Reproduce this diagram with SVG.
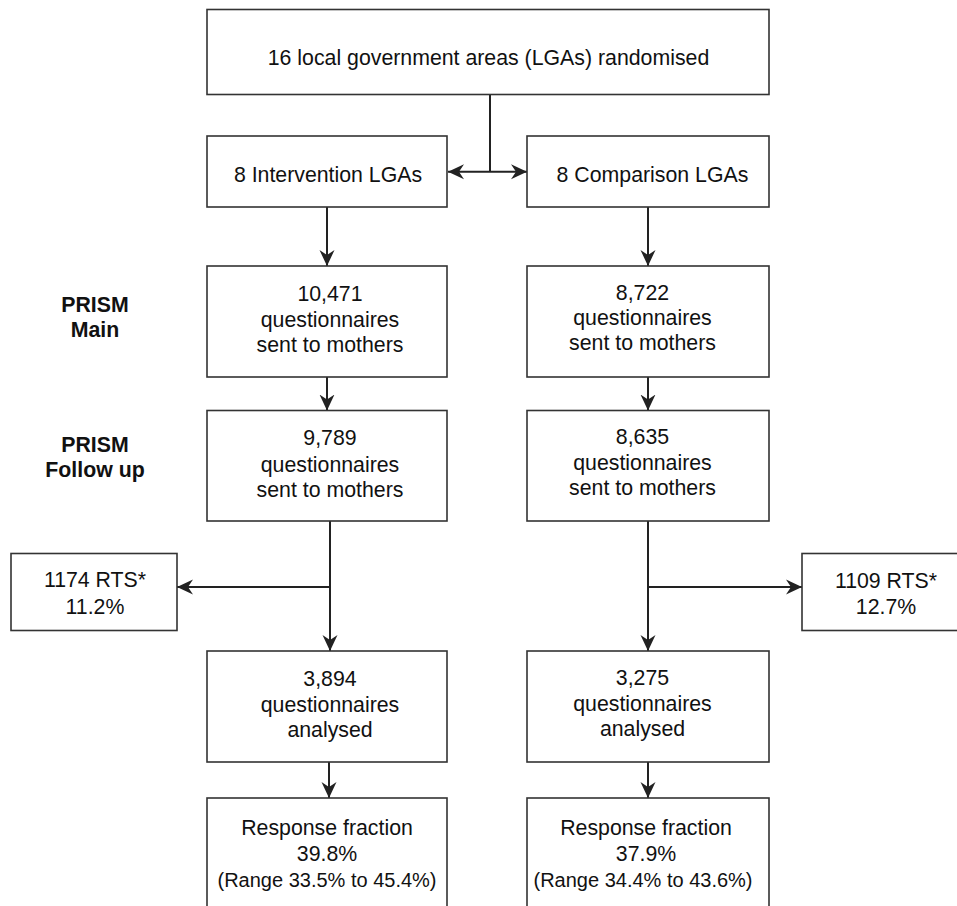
<svg xmlns="http://www.w3.org/2000/svg" width="957" height="906" viewBox="0 0 957 906">
<style>
.box{fill:#fff;stroke:#333;stroke-width:1.6}
.t{font-family:"Liberation Sans",Arial,sans-serif;font-size:21.3px;fill:#111;text-anchor:middle}
.s{font-size:20px}
.b{font-weight:bold}
.c{fill:none;stroke:#222;stroke-width:2}
</style>
<defs>
<marker id="ah" markerUnits="userSpaceOnUse" markerWidth="17" markerHeight="16" refX="16" refY="8" orient="auto">
<path d="M0,0.5 L16,8 L0,15.5 L5,8 Z" fill="#222"/>
</marker>
</defs>
<rect width="957" height="906" fill="#fff"/>
<g id="connectors">
<path class="c" d="M490,94.5 V171.7"/>
<path class="c" d="M490,171.7 H448" marker-end="url(#ah)"/>
<path class="c" d="M490,171.7 H527" marker-end="url(#ah)"/>
<path class="c" d="M327,207 V266" marker-end="url(#ah)"/>
<path class="c" d="M648,207 V266" marker-end="url(#ah)"/>
<path class="c" d="M327,377 V410.5" marker-end="url(#ah)"/>
<path class="c" d="M648,377 V410.5" marker-end="url(#ah)"/>
<path class="c" d="M330,521 V651" marker-end="url(#ah)"/>
<path class="c" d="M330,587 H177" marker-end="url(#ah)"/>
<path class="c" d="M648,521 V651" marker-end="url(#ah)"/>
<path class="c" d="M648,587 H802" marker-end="url(#ah)"/>
<path class="c" d="M329,762 V798" marker-end="url(#ah)"/>
<path class="c" d="M648,762 V798" marker-end="url(#ah)"/>
</g>
<g id="n-top"><rect class="box" x="207" y="9.5" width="562" height="85"/>
<text class="t" x="488.5" y="65">16 local government areas (LGAs) randomised</text></g>
<g id="n-int"><rect class="box" x="207" y="136" width="240" height="71"/>
<text class="t" x="328" y="181.7">8 Intervention LGAs</text></g>
<g id="n-comp"><rect class="box" x="527" y="136" width="242" height="71"/>
<text class="t" x="652.5" y="181.7">8 Comparison LGAs</text></g>
<g id="l-main"><text class="t b" x="95" y="311.7">PRISM</text><text class="t b" x="95" y="336.7">Main</text></g>
<g id="l-follow"><text class="t b" x="95" y="451.7">PRISM</text><text class="t b" x="95" y="476.7">Follow up</text></g>
<g id="n-int-main"><rect class="box" x="207" y="266" width="240" height="111"/>
<text class="t" x="330" y="301">10,471</text><text class="t" x="330" y="327">questionnaires</text><text class="t" x="330" y="352">sent to mothers</text></g>
<g id="n-comp-main"><rect class="box" x="527" y="266" width="242" height="111"/>
<text class="t" x="642.5" y="299.5">8,722</text><text class="t" x="642.5" y="325">questionnaires</text><text class="t" x="642.5" y="350">sent to mothers</text></g>
<g id="n-int-fu"><rect class="box" x="207" y="410.5" width="240" height="110.5"/>
<text class="t" x="330" y="445">9,789</text><text class="t" x="330" y="471.5">questionnaires</text><text class="t" x="330" y="496.5">sent to mothers</text></g>
<g id="n-comp-fu"><rect class="box" x="527" y="410.5" width="242" height="110.5"/>
<text class="t" x="642.5" y="444">8,635</text><text class="t" x="642.5" y="470">questionnaires</text><text class="t" x="642.5" y="495">sent to mothers</text></g>
<g id="n-rts-int"><rect class="box" x="11" y="553.5" width="166" height="77"/>
<text class="t" x="95" y="587">1174 RTS*</text><text class="t" x="95" y="613.5">11.2%</text></g>
<g id="n-rts-comp"><rect class="box" x="802" y="553.5" width="166" height="77"/>
<text class="t" x="886" y="588">1109 RTS*</text><text class="t" x="886" y="614">12.7%</text></g>
<g id="n-int-an"><rect class="box" x="207" y="651" width="240" height="111"/>
<text class="t" x="330" y="685.5">3,894</text><text class="t" x="330" y="711.5">questionnaires</text><text class="t" x="330" y="736.5">analysed</text></g>
<g id="n-comp-an"><rect class="box" x="527" y="651" width="242" height="111"/>
<text class="t" x="642.5" y="685">3,275</text><text class="t" x="642.5" y="711">questionnaires</text><text class="t" x="642.5" y="736">analysed</text></g>
<g id="n-int-rf"><rect class="box" x="207" y="798" width="240" height="120"/>
<text class="t" x="327" y="835">Response fraction</text><text class="t" x="327" y="861">39.8%</text><text class="t s" x="327" y="887">(Range 33.5% to 45.4%)</text></g>
<g id="n-comp-rf"><rect class="box" x="527" y="798" width="242" height="120"/>
<text class="t" x="646" y="835">Response fraction</text><text class="t" x="646" y="861">37.9%</text><text class="t s" x="643" y="887">(Range 34.4% to 43.6%)</text></g>
</svg>
